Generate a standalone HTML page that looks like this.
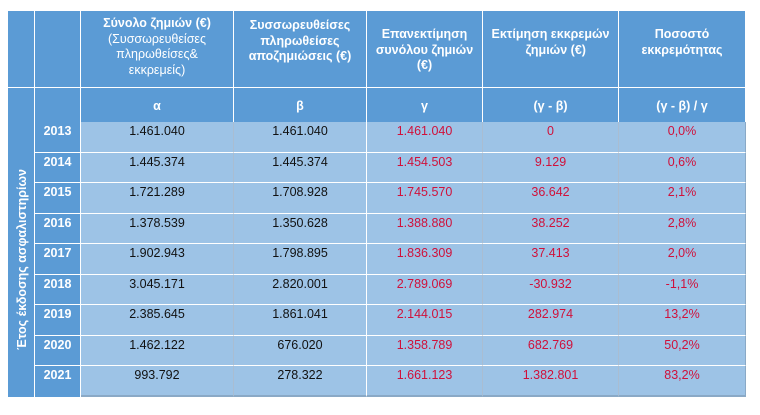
<!DOCTYPE html>
<html><head><meta charset="utf-8"><style>
body{margin:0;width:760px;height:415px;background:#fff;position:relative;overflow:hidden;font-family:"Liberation Sans","DejaVu Sans",sans-serif;}
.c{position:absolute;box-sizing:border-box;text-align:center;font-size:12.5px;}
.h{background:#5B9BD5;color:#fff;font-weight:bold;}
.d{background:#9DC3E6;color:#111;}
.r{color:#D0103A;}
.vt{position:absolute;left:8px;top:122px;width:27px;height:275px;display:flex;align-items:center;justify-content:center;color:#fff;font-weight:bold;font-size:12.5px;}
.vt span{writing-mode:vertical-rl;transform:rotate(180deg);white-space:nowrap;}
</style></head><body>
<div id="t"></div>
<script>
const X=[8,35,81,234,367,483,619,746];
const t=document.getElementById('t');
function cell(x0,x1,y0,y1,cls,html,pad,extra){
 const d=document.createElement('div');d.className='c '+cls;
 d.style.cssText+=`left:${x0}px;top:${y0}px;width:${x1-x0}px;height:${y1-y0}px;padding-top:${pad}px;`+(extra||'');
 d.innerHTML=html;t.appendChild(d);}
const H=['','','Σύνολο ζημιών (€)<br><span style="font-weight:normal">(Συσσωρευθείσες<br>πληρωθείσες&amp;<br>εκκρεμείς)</span>','Συσσωρευθείσες<br>πληρωθείσες<br>αποζημιώσεις (€)','Επανεκτίμηση<br>συνόλου ζημιών<br>(€)','Εκτίμηση εκκρεμών<br>&nbsp;&nbsp;&nbsp;ζημιών (€)','Ποσοστό<br>εκκρεμότητας'];
const S=['','','α','β','γ','(γ - β)','(γ - β) / γ'];
for(let i=0;i<7;i++){
 cell(X[i],X[i+1],11,88,'h',H[i],i==2?5:(i==3?7:16),'line-height:15.5px;border-right:1px solid #fff;border-bottom:1px solid #fff;');
 cell(X[i],X[i+1],88,122,'h',S[i],11,'border-right:1px solid #fff;');
}
const D=[
['2013','1.461.040','1.461.040','1.461.040','0','0,0%'],
['2014','1.445.374','1.445.374','1.454.503','9.129','0,6%'],
['2015','1.721.289','1.708.928','1.745.570','36.642','2,1%'],
['2016','1.378.539','1.350.628','1.388.880','38.252','2,8%'],
['2017','1.902.943','1.798.895','1.836.309','37.413','2,0%'],
['2018','3.045.171','2.820.001','2.789.069','-30.932','-1,1%'],
['2019','2.385.645','1.861.041','2.144.015','282.974','13,2%'],
['2020','1.462.122','676.020','1.358.789','682.769','50,2%'],
['2021','993.792','278.322','1.661.123','1.382.801','83,2%']];
cell(8,35,122,397,'h','',0,'border-right:1px solid #fff;');
for(let r=0;r<9;r++){
 const y0=122+r*30.55,y1=y0+30.55;
 const bb=r<8?'border-bottom:1px solid #fff;':'border-bottom:2px solid #8aa9c6;';
 cell(35,81,y0,y1,'h',D[r][0],2,'border-right:1px solid #fff;'+(r<8?'border-bottom:1px solid #fff;':''));
 for(let j=1;j<6;j++){
  const br=j==2?'border-right:1px solid #fff;':(j==5?'border-right:1px solid #8aa9c6;':'border-right:1px solid #a9bdd2;');
  cell(X[j+1],X[j+2],y0,y1,'d'+(j>=3?' r':''),D[r][j],2,br+bb);
 }
}
const v=document.createElement('div');v.className='vt';
v.innerHTML='<span>Έτος έκδοσης ασφαλιστηρίων</span>';
t.appendChild(v);
</script>
</body></html>
